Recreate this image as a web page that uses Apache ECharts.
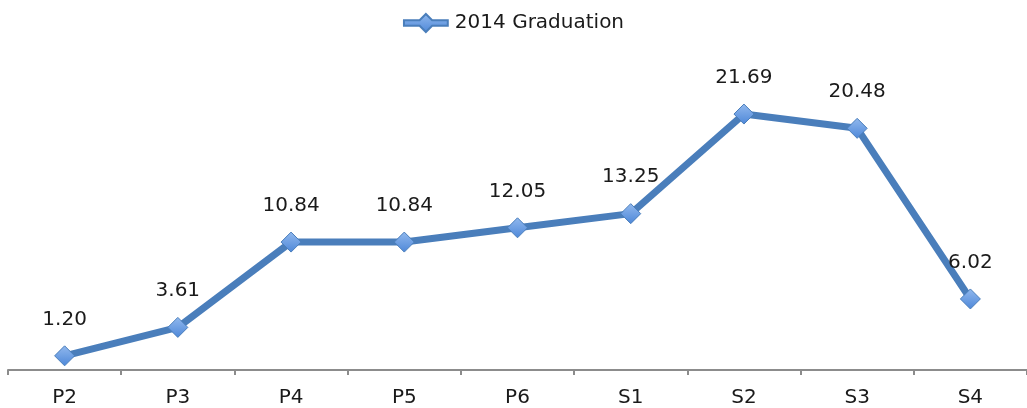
<!DOCTYPE html>
<html>
<head>
<meta charset="utf-8">
<script src="https://cdn.jsdelivr.net/npm/echarts@6/dist/echarts.min.js"></script>
<style>
  html, body { margin: 0; padding: 0; background: #ffffff; }
  #chart { width: 1027px; height: 408px; }
</style>
</head>
<body>
<div id="chart"></div>
<script>
const categories = ['P2', 'P3', 'P4', 'P5', 'P6', 'S1', 'S2', 'S3', 'S4'];
const seriesName = '2014 Graduation';
const values = [1.20, 3.61, 10.84, 10.84, 12.05, 13.25, 21.69, 20.48, 6.02];

const chart = echarts.init(document.getElementById('chart'));
const fontFamily = 'DejaVu Sans, sans-serif';

chart.setOption({
  animation: false,
  backgroundColor: '#ffffff',
  legend: {
    top: 8,
    left: 'center',
    itemWidth: 56,
    itemHeight: 18,
    itemGap: 4,
    textStyle: { fontFamily, fontSize: 20, color: '#1a1a1a', padding: [0, 0, 0, -4] },
    data: [{ name: seriesName, icon: 'path://M0,6 L20,6 L28,-2 L36,6 L56,6 L56,13 L36,13 L28,21 L20,13 L0,13 Z' }]
  },
  grid: { left: 8, top: 75, width: 1021, bottom: 37 },
  xAxis: {
    type: 'category',
    data: categories,
    boundaryGap: true,
    axisLine: { lineStyle: { color: '#8c8c8c', width: 2 } },
    axisTick: { show: true, length: 5, lineStyle: { color: '#8c8c8c', width: 2 } },
    axisLabel: { fontFamily, fontSize: 20, color: '#1a1a1a', margin: 18 }
  },
  yAxis: {
    type: 'value',
    min: 0,
    max: 25,
    show: false,
    splitLine: { show: false }
  },
  series: [{
    name: seriesName,
    type: 'line',
    data: values,
    symbol: 'diamond',
    symbolSize: 20,
    color: '#4a7ebb',
    lineStyle: { color: '#4a7ebb', width: 7 },
    itemStyle: {
      color: new echarts.graphic.LinearGradient(0, 0, 0, 1, [
        { offset: 0, color: '#92b9ee' },
        { offset: 1, color: '#4d87d8' }
      ]),
      borderColor: '#4a7ebb',
      borderWidth: 1
    },
    label: {
      show: true,
      position: 'top',
      distance: 16,
      fontFamily,
      fontSize: 20,
      color: '#1a1a1a',
      formatter: p => p.value.toFixed(2)
    }
  }]
});
</script>
</body>
</html>
